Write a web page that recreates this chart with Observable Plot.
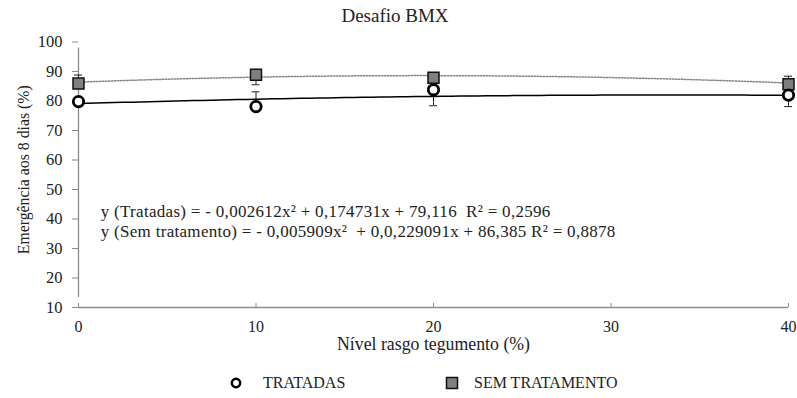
<!DOCTYPE html>
<html>
<head>
<meta charset="utf-8">
<script src="https://cdn.jsdelivr.net/npm/d3@7"></script>
<script src="https://cdn.jsdelivr.net/npm/@observablehq/plot@0.6"></script>
<style>
  html, body { margin: 0; padding: 0; background: #fff; }
  body { width: 797px; height: 398px; overflow: hidden; font-family: "Liberation Serif", "Times New Roman", serif; color: #222; }
  #title { height: 30px; box-sizing: border-box; padding-right: 7px; padding-top: 5px; text-align: center; font-size: 19px; line-height: 22px; }
  #chart svg { display: block; }
  #legend { position: relative; height: 33px; font-size: 16px; }
  .sw { position: absolute; top: 10px; }
  .lt { position: absolute; top: 9px; line-height: 18px; }
</style>
</head>
<body>
<div id="title">Desafio BMX</div>
<div id="chart"></div>
<div id="legend">
  <svg class="sw" style="left:228px" width="16" height="16"><circle cx="8" cy="8" r="4.2" fill="#fff" stroke="#000" stroke-width="2.5"/></svg>
  <span class="lt" style="left:263px">TRATADAS</span>
  <svg class="sw" style="left:444px" width="16" height="16"><rect x="2.5" y="2.5" width="11" height="11" fill="#7f7f7f" stroke="#111" stroke-width="1.5"/></svg>
  <span class="lt" style="left:474px">SEM TRATAMENTO</span>
</div>
<script>
const nivel = [0, 10, 20, 40];
const tratadas = [79.8, 78.1, 83.8, 82.0];
const semTratamento = [85.9, 88.9, 87.9, 85.7];
const tratadasErrUp = [0, 5.0, 0, 0];
const tratadasErrDown = [0, 0, 5.4, 3.9];
const semErrUp = [2.9, 0, 0, 2.7];
const semErrDown = [0, 3.4, 0, 0];
const coefTratadas = [-0.002612, 0.174731, 79.116];
const coefSem = [-0.005909, 0.229091, 86.385];
const xTicks = [0, 10, 20, 30, 40];
const yTicks = [10, 20, 30, 40, 50, 60, 70, 80, 90, 100];
const eqTratadas = "y (Tratadas) = - 0,002612x\u00B2 + 0,174731x + 79,116  R\u00B2 = 0,2596";
const eqSem = "y (Sem tratamento) = - 0,005909x\u00B2  + 0,0,229091x + 86,385 R\u00B2 = 0,8878";

const poly = (c, x) => c[0] * x * x + c[1] * x + c[2];
const xs = d3.range(0, 40.01, 0.5);
const trendT = xs.map(x => ({x, y: poly(coefTratadas, x)}));
const trendS = xs.map(x => ({x, y: poly(coefSem, x)}));

const pts = nivel.map((x, i) => ({
  x, t: tratadas[i], s: semTratamento[i],
  tLo: tratadas[i] - tratadasErrDown[i], tHi: tratadas[i] + tratadasErrUp[i],
  sLo: semTratamento[i] - semErrDown[i], sHi: semTratamento[i] + semErrUp[i]
}));
const errs = [];
pts.forEach(p => {
  if (p.tHi > p.t) errs.push({x: p.x, y1: p.t, y2: p.tHi, cap: p.tHi});
  if (p.tLo < p.t) errs.push({x: p.x, y1: p.t, y2: p.tLo, cap: p.tLo});
  if (p.sHi > p.s) errs.push({x: p.x, y1: p.s, y2: p.sHi, cap: p.sHi});
  if (p.sLo < p.s) errs.push({x: p.x, y1: p.s, y2: p.sLo, cap: p.sLo});
});

const font = "'Liberation Serif', 'Times New Roman', serif";
const chart = Plot.plot({
  width: 797,
  height: 335,
  marginLeft: 78,
  marginRight: 9,
  marginTop: 11.5,
  marginBottom: 58,
  style: {fontFamily: font, fontSize: "16px", color: "#222", background: "#fff", overflow: "visible"},
  x: {domain: [0, 40], ticks: xTicks},
  y: {domain: [10, 100], ticks: yTicks},
  marks: [
    Plot.ruleY([10], {stroke: "#8a8a8a", strokeWidth: 1.3}),
    Plot.ruleX([0], {y1: 10, y2: 100, stroke: "#8a8a8a", strokeWidth: 1.3, insetTop: -10, insetBottom: -6}),
    Plot.axisX({ticks: xTicks, tickSize: 4, dy: -4, tickFormat: () => "", stroke: "#8a8a8a", label: null}),
    Plot.axisX({ticks: xTicks, tickSize: 0, tickPadding: 13, fontSize: 16, fill: "#222", label: null}),
    Plot.axisY({ticks: yTicks, tickSize: 6, tickPadding: 10, stroke: "#8a8a8a", fill: "#222", fontSize: 16.5, label: null}),
    Plot.text(["Emergência aos 8 dias (%)"], {frameAnchor: "left", textAnchor: "middle", rotate: -90, dx: -55, dy: -5, fontSize: 15.8, fill: "#222"}),
    Plot.text(["Nível rasgo tegumento (%)"], {frameAnchor: "bottom", dy: 42, fontSize: 17.8, fill: "#222"}),
    Plot.text([eqTratadas], {x: 1.25, y: 42.6, textAnchor: "start", fontSize: 17, fill: "#222"}),
    Plot.text([eqSem], {x: 1.25, y: 35.9, textAnchor: "start", fontSize: 17, fill: "#222"}),
    Plot.line(trendS, {x: "x", y: "y", stroke: "#888", strokeWidth: 1.5, strokeDasharray: "1.5 1.5"}),
    Plot.line(trendT, {x: "x", y: "y", stroke: "#000", strokeWidth: 1.5}),
    Plot.ruleX(errs, {x: "x", y1: "y1", y2: "y2", stroke: "#222", strokeWidth: 1}),
    Plot.ruleY(errs, {y: "cap", x1: "x", x2: "x", insetLeft: -4, insetRight: -4, stroke: "#222", strokeWidth: 1}),
    Plot.dot(pts, {x: "x", y: "s", symbol: "square", r: 6.2, fill: "#7f7f7f", stroke: "#111", strokeWidth: 1.5}),
    Plot.dot(pts, {x: "x", y: "t", r: 5.2, fill: "#fff", stroke: "#000", strokeWidth: 2.8})
  ]
});
d3.select(chart).selectAll("text")
  .filter(function() { return this.textContent === eqTratadas || this.textContent === eqSem; })
  .style("letter-spacing", "0.3px");
document.getElementById("chart").appendChild(chart);
</script>
</body>
</html>
